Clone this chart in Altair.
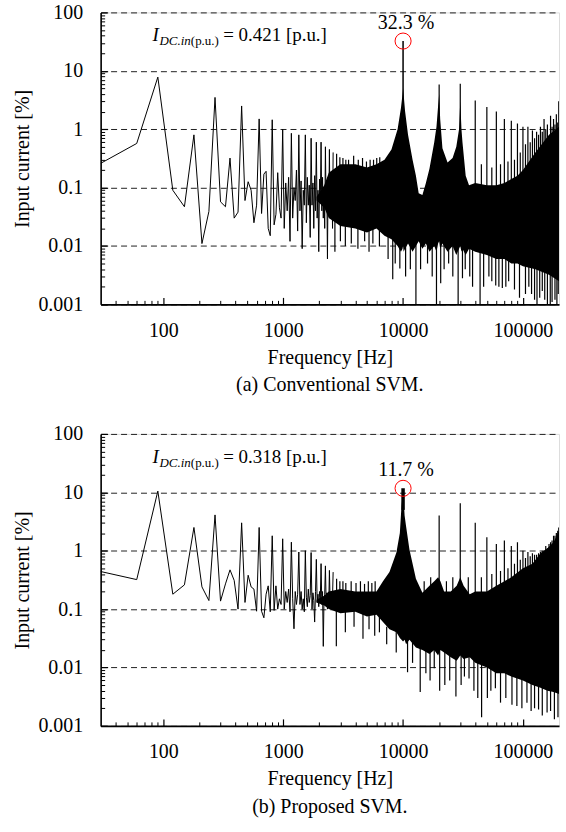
import altair as alt
import pandas as pd

FONT = "Liberation Serif, Times New Roman, Times, serif"

# ---------------- data ----------------
LOW_F = [30, 60, 90, 120, 150, 180, 210, 240, 270, 300,
         330, 360, 390, 420, 450, 480, 510, 540, 570, 600,
         630, 660, 690, 720, 750, 780, 810, 840, 870, 900,
         930, 960, 990, 1020, 1050, 1080, 1110, 1140, 1170, 1200,
         1230, 1260, 1290, 1320, 1350, 1380, 1410, 1440, 1470, 1500,
         1530, 1560, 1590, 1620, 1650, 1680, 1710, 1740, 1770, 1800,
         1830, 1860, 1890, 1920, 1950, 1980, 2010, 2040, 2070, 2100,
         2130, 2160, 2190, 2220, 2250, 2280, 2310, 2340, 2370, 2400,
         2430, 2460, 2490, 2520, 2550, 2580, 2610]

A_LOW_V = [0.26, 0.57, 7.8, 0.09, 0.047, 0.8, 0.011, 0.039, 3.5, 0.057,
           0.047, 0.32, 0.03, 0.038, 2.5, 0.06, 0.126, 0.09, 0.025, 0.05,
           1.5, 0.036, 0.17, 0.19, 0.02, 0.015, 1.45, 0.023, 0.035, 0.18,
           0.045, 0.03, 1.0, 0.02, 0.12, 0.04, 0.15, 0.012, 0.85, 0.03,
           0.1, 0.06, 0.2, 0.018, 0.8, 0.04, 0.13, 0.009, 0.09, 0.05,
           0.8, 0.025, 0.15, 0.05, 0.11, 0.014, 0.7, 0.05, 0.12, 0.02,
           0.16, 0.04, 0.6, 0.03, 0.09, 0.008, 0.14, 0.06, 0.6, 0.04,
           0.15, 0.03, 0.1, 0.02, 0.5, 0.05, 0.12, 0.006, 0.15, 0.04,
           0.45, 0.03, 0.16, 0.05, 0.12, 0.02, 0.4]

B_LOW_V = [0.44, 0.32, 10.5, 0.18, 0.26, 2.5, 0.24, 0.14, 4.1, 0.137,
           0.27, 0.47, 0.31, 0.1, 3.0, 0.13, 0.38, 0.24, 0.22, 0.092,
           2.5, 0.092, 0.071, 0.18, 0.25, 0.09, 1.8, 0.095, 0.25, 0.1,
           0.15, 0.12, 1.6, 0.1, 0.2, 0.13, 0.22, 0.09, 1.4, 0.15,
           0.046, 0.2, 0.12, 0.18, 0.95, 0.12, 0.2, 0.1, 0.15, 0.09,
           1.0, 0.16, 0.11, 0.22, 0.13, 0.17, 0.93, 0.1, 0.19, 0.14,
           0.06, 0.2, 0.71, 0.13, 0.18, 0.11, 0.2, 0.15, 0.6, 0.12,
           0.2, 0.023, 0.15, 0.18, 0.55, 0.14, 0.19, 0.1, 0.17, 0.12,
           0.46, 0.15, 0.11, 0.2, 0.13, 0.16, 0.43]

# dense high-frequency region: envelope of the solid black band
A_BAND_F = [1900, 2200, 2400, 3000, 4000, 5000, 6000, 7000, 8000, 9000, 9600, 9900,
            10000, 10100, 10400, 11000, 12000, 12800, 13500, 14500, 15500, 16600,
            18200, 19000, 19600, 20000, 20400, 21300, 23500, 25900, 27800, 29300,
            30000, 30700, 31300, 33300, 35500, 40000, 50000, 60000, 70000, 80000,
            90000, 100000, 127000, 165000, 200000]
A_BAND_LO = [0.06, 0.045, 0.03, 0.022, 0.02, 0.017, 0.02, 0.015, 0.013, 0.01, 0.008, 0.009,
             0.01, 0.008, 0.009, 0.011, 0.008, 0.01, 0.012, 0.009, 0.011, 0.008,
             0.01, 0.008, 0.011, 0.012, 0.009, 0.011, 0.008, 0.01, 0.007, 0.009,
             0.01, 0.008, 0.009, 0.007, 0.009, 0.008, 0.007, 0.006, 0.006, 0.005,
             0.005, 0.0045, 0.004, 0.0032, 0.0025]
A_BAND_HI = [0.07, 0.11, 0.18, 0.25, 0.25, 0.22, 0.25, 0.3, 0.45, 1.0, 2.3, 4.0,
             5.0, 4.0, 2.0, 0.8, 0.3, 0.16, 0.08, 0.075, 0.12, 0.21,
             0.6, 1.1, 2.5, 4.0, 1.5, 0.47, 0.27, 0.32, 0.5, 1.0,
             3.0, 1.0, 0.6, 0.16, 0.11, 0.12, 0.11, 0.11, 0.12, 0.14,
             0.16, 0.2, 0.4, 0.8, 1.1]

B_BAND_F = [1900, 2200, 2400, 3000, 4000, 5000, 6000, 6800, 7700, 8800, 9400, 9700,
            10000, 10300, 10600, 11300, 12800, 14500, 16600, 18200, 19600, 20500,
            22000, 25000, 28000, 30000, 32000, 36000, 40000, 50000, 60000, 70000,
            80000, 100000, 120000, 140000, 160000, 180000, 200000]
B_BAND_LO = [0.13, 0.115, 0.1, 0.085, 0.09, 0.075, 0.08, 0.06, 0.045, 0.04, 0.032, 0.03,
             0.028, 0.03, 0.025, 0.03, 0.022, 0.02, 0.017, 0.02, 0.016, 0.02,
             0.018, 0.015, 0.013, 0.016, 0.014, 0.015, 0.012, 0.01, 0.008, 0.008,
             0.007, 0.006, 0.005, 0.0045, 0.004, 0.0038, 0.0035]
B_BAND_HI = [0.145, 0.17, 0.2, 0.22, 0.2, 0.2, 0.2, 0.3, 0.43, 0.93, 2.0, 5.8,
             11.0, 4.0, 2.6, 1.05, 0.33, 0.19, 0.25, 0.3, 0.35, 0.3,
             0.2, 0.2, 0.25, 0.35, 0.25, 0.18, 0.2, 0.2, 0.25, 0.3,
             0.35, 0.5, 0.6, 0.9, 1.1, 1.4, 2.2]

# upward spikes: frequency, bottom, top
A_UP_F = [2790, 2970, 3150, 3330, 3510, 3870, 4230, 4590, 4950, 5310, 5670, 6030, 6390,
          20000, 30000, 40000, 50000, 60000, 70000, 80000, 90000, 100000, 110000,
          120000, 130000, 140000, 150000, 160000, 170000, 180000, 190000, 199000,
          45000, 55000, 65000, 75000, 85000, 95000, 105000, 115000, 125000, 135000,
          145000, 155000, 175000, 185000, 195000]
A_UP_LO = [0.1] * 13 + [1.0, 1.0] + [0.05] * 17 + [0.05] * 15
A_UP_HI = [0.38, 0.33, 0.32, 0.3, 0.3, 0.35, 0.3, 0.32, 0.28, 0.3, 0.3, 0.32, 0.33,
           5.8, 6.0, 3.1, 2.4, 2.0, 1.5, 1.4, 1.25, 1.1, 1.1,
           0.95, 0.9, 1.1, 1.5, 1.2, 1.7, 1.5, 1.8, 3.0,
           0.25, 0.22, 0.25, 0.28, 0.3, 0.4, 0.55, 0.6, 0.7, 0.8,
           0.9, 1.0, 1.1, 1.2, 1.3]
# downward dips: frequency, bottom, top
A_DN_F = [3700, 4780, 6350, 8200, 9400, 12800, 19000, 20600, 28800, 31300,
          43900, 59300, 67300, 93600, 131000, 145000, 160000, 169000, 197000,
          2700, 3000, 3300, 4200, 5200, 5600, 7500, 8600, 10500, 11500,
          14000, 16000, 17500, 22000, 24000, 26000, 33000, 36000, 38000, 47000,
          52000, 55000, 63000, 72000, 76000, 85000, 105000, 112000, 118000, 125000,
          138000, 152000, 175000, 185000, 192000]
A_DN_LO = [0.011, 0.012, 0.0098, 0.0027, 0.0041, 0.001, 0.001, 0.0023, 0.001, 0.0028,
           0.001, 0.0021, 0.0019, 0.0013, 0.001, 0.0017, 0.001, 0.001, 0.0015,
           0.008, 0.012, 0.01, 0.009, 0.008, 0.011, 0.006, 0.005, 0.003, 0.004,
           0.004, 0.005, 0.003, 0.004, 0.005, 0.003, 0.004, 0.003, 0.002, 0.002,
           0.003, 0.0025, 0.002, 0.002, 0.0025, 0.0018, 0.0015, 0.002, 0.0015, 0.0012,
           0.0013, 0.0012, 0.0011, 0.0012, 0.001]
A_DN_HI = [0.03] * 10 + [0.02] * 9 + [0.03] * 19 + [0.02] * 16

B_UP_F = [2790, 2970, 3150, 3330, 3690, 4050, 4410, 4770, 5130, 5490, 5850,
          20000, 30000, 40000, 50000, 60000, 70000, 80000, 90000, 100000, 110000,
          120000, 130000, 140000, 150000, 160000, 170000, 180000, 190000, 199000,
          15000, 17000, 23000, 26000, 35000, 45000, 55000, 65000, 75000, 85000,
          95000, 105000, 115000, 125000, 135000, 145000, 155000, 165000, 175000,
          185000, 195000]
B_UP_LO = [0.15] * 11 + [0.2, 0.2] + [0.15] * 17 + [0.1] * 21
B_UP_HI = [0.33, 0.3, 0.3, 0.28, 0.3, 0.28, 0.3, 0.27, 0.3, 0.28, 0.3,
           4.0, 6.5, 3.0, 1.7, 1.3, 1.5, 1.2, 1.4, 1.0, 0.95,
           0.9, 0.85, 0.95, 1.0, 1.1, 1.4, 1.8, 2.0, 2.5,
           0.3, 0.35, 0.3, 0.35, 0.35, 0.35, 0.4, 0.45, 0.5, 0.6,
           0.7, 0.75, 0.8, 0.85, 0.9, 1.0, 1.2, 1.3, 1.5,
           1.8, 2.2]
B_DN_F = [2775, 4630, 6350, 8770, 10900, 13900, 18200, 22300, 27600, 35500,
          45200, 58900, 81000, 98000, 135000, 159000, 196000,
          3300, 3900, 5200, 5800, 7300, 12000, 15500, 16800, 20200, 24500,
          30500, 32500, 39000, 42000, 50500, 54000, 65000, 72000, 89000, 108000,
          117000, 125000, 145000, 170000, 183000]
B_DN_LO = [0.023, 0.031, 0.04, 0.018, 0.0083, 0.0038, 0.0097, 0.005, 0.0032, 0.0065,
           0.0014, 0.0044, 0.0023, 0.002, 0.0019, 0.0017, 0.0014,
           0.04, 0.05, 0.045, 0.035, 0.025, 0.012, 0.008, 0.006, 0.004, 0.006,
           0.005, 0.007, 0.004, 0.003, 0.003, 0.004, 0.0025, 0.003, 0.0022, 0.0025,
           0.0018, 0.002, 0.0015, 0.0018, 0.0013]
B_DN_HI = [0.1, 0.1, 0.1, 0.05, 0.05] + [0.03] * 5 + [0.02] * 7 + \
          [0.1, 0.1, 0.1, 0.1, 0.05] + [0.03] * 7 + [0.02] * 13

PEAK_F = 10000
A_PEAK = 32.3
B_PEAK = 11.7
A_PEAK_BASE = 3.0
B_PEAK_BASE = 5.0
A_PEAK_LABEL = "32.3 %"
B_PEAK_LABEL = "11.7 %"
A_IDC = "= 0.421 [p.u.]"
B_IDC = "= 0.318 [p.u.]"
A_CAPTION = "(a) Conventional SVM."
B_CAPTION = "(b) Proposed SVM."

X_LABELS = [100, 1000, 10000, 100000]
X_MINOR = [40, 50, 60, 70, 80, 90, 200, 300, 400, 500, 600, 700, 800, 900,
           2000, 3000, 4000, 5000, 6000, 7000, 8000, 9000,
           20000, 30000, 40000, 50000, 60000, 70000, 80000, 90000]
Y_LABELS = [0.001, 0.01, 0.1, 1, 10, 100]
Y_MINOR = [0.002, 0.003, 0.004, 0.005, 0.006, 0.007, 0.008, 0.009,
           0.02, 0.03, 0.04, 0.05, 0.06, 0.07, 0.08, 0.09,
           0.2, 0.3, 0.4, 0.5, 0.6, 0.7, 0.8, 0.9,
           2, 3, 4, 5, 6, 7, 8, 9,
           20, 30, 40, 50, 60, 70, 80, 90]

# ---------------- chart ----------------
X_SCALE = alt.Scale(type="log", domain=[30, 200000], nice=False)
Y_SCALE = alt.Scale(type="log", domain=[0.001, 100], nice=False)

X_MAIN = alt.Axis(orient="bottom", values=X_LABELS, format="d", ticks=False,
                  labelPadding=16, labelFont=FONT, labelFontSize=20, labelColor="black",
                  labelFlush=False, labelOverlap=False,
                  title="Frequency [Hz]", titleFont=FONT, titleFontSize=20,
                  titleFontWeight="normal", titleColor="black", titlePadding=7,
                  domain=True, domainColor="black", domainWidth=1.6, grid=False)
Y_MAIN = alt.Axis(orient="left", values=Y_LABELS, format="~g", ticks=False,
                  labelPadding=18, labelFont=FONT, labelFontSize=20, labelColor="black",
                  labelFlush=False, labelOverlap=False,
                  title="Input current [%]", titleFont=FONT, titleFontSize=20,
                  titleFontWeight="normal", titleColor="black", titlePadding=5,
                  domain=True, domainColor="black", domainWidth=1.6,
                  grid=True, gridColor="#222222", gridDash=[6, 4], gridWidth=1)
X_MAJ = alt.Axis(orient="bottom", values=X_LABELS, labels=False, domain=False, grid=False,
                 tickSize=7, offset=-7, tickColor="black", tickWidth=1.2, title=None, zindex=1)
X_MIN = alt.Axis(orient="bottom", values=X_MINOR, labels=False, domain=False, grid=False,
                 tickSize=4, offset=-4, tickColor="black", tickWidth=1, title=None, zindex=1)
Y_MAJ = alt.Axis(orient="left", values=Y_LABELS, labels=False, domain=False, grid=False,
                 tickSize=7, offset=-7, tickColor="black", tickWidth=1.2, title=None, zindex=1)
Y_MIN = alt.Axis(orient="left", values=Y_MINOR, labels=False, domain=False, grid=False,
                 tickSize=4, offset=-4, tickColor="black", tickWidth=1, title=None, zindex=1)


def txt(s, x, y, size, style="normal"):
    return alt.Chart(pd.DataFrame({"t": [s]})).mark_text(
        font=FONT, fontSize=size, fontStyle=style, align="left",
        baseline="alphabetic", color="black").encode(
        x=alt.value(x), y=alt.value(y), text="t:N")


def panel(low_v, band_f, band_lo, band_hi, up_f, up_lo, up_hi, dn_f, dn_lo, dn_hi,
          peak_base, peak_v, peak_w, peak_label, idc, caption):
    line_df = pd.DataFrame({"f": LOW_F, "v": low_v})
    band_df = pd.DataFrame({"f": band_f, "lo": band_lo, "hi": band_hi})
    spk_df = pd.DataFrame({"f": up_f + dn_f, "lo": up_lo + dn_lo, "hi": up_hi + dn_hi})
    peak_df = pd.DataFrame({"f": [PEAK_F], "lo": [peak_base], "v": [peak_v], "t": [peak_label]})

    band = alt.Chart(band_df).mark_area(color="black", opacity=1, clip=True).encode(
        x=alt.X("f:Q", scale=X_SCALE, axis=X_MAJ),
        y=alt.Y("lo:Q", scale=Y_SCALE, axis=Y_MAJ),
        y2="hi:Q")
    line = alt.Chart(line_df).mark_line(color="black", strokeWidth=1, clip=True).encode(
        x=alt.X("f:Q", scale=X_SCALE, axis=X_MAIN),
        y=alt.Y("v:Q", scale=Y_SCALE, axis=Y_MAIN))
    spikes = alt.Chart(spk_df).mark_rule(color="black", strokeWidth=1.2, clip=True).encode(
        x=alt.X("f:Q", scale=X_SCALE, axis=X_MIN),
        y=alt.Y("lo:Q", scale=Y_SCALE, axis=Y_MIN),
        y2="hi:Q")
    peak_rule = alt.Chart(peak_df).mark_rule(color="black", strokeWidth=peak_w, clip=True).encode(
        x=alt.X("f:Q", scale=X_SCALE, axis=None),
        y=alt.Y("lo:Q", scale=Y_SCALE, axis=None),
        y2="v:Q")
    circle = alt.Chart(peak_df).mark_point(shape="circle", size=260, color="#ff0000",
                                           filled=False, strokeWidth=1, opacity=1).encode(
        x=alt.X("f:Q", scale=X_SCALE, axis=None),
        y=alt.Y("v:Q", scale=Y_SCALE, axis=None))
    ptext = alt.Chart(peak_df).mark_text(font=FONT, fontSize=20, dy=-12, dx=3,
                                         baseline="alphabetic", align="center",
                                         color="black").encode(
        x=alt.X("f:Q", scale=X_SCALE, axis=None),
        y=alt.Y("v:Q", scale=Y_SCALE, axis=None),
        text="t:N")
    ann = [txt("I", 52, 29, 19, "italic"),
           txt("DC.in", 59, 33, 13, "italic"),
           txt("(p.u.)", 90.5, 33, 13),
           txt(idc, 123, 29, 19)]
    return alt.layer(band, line, spikes, peak_rule, circle, ptext, *ann).resolve_axis(
        x="independent", y="independent").properties(
        width=460, height=293,
        title=alt.TitleParams(caption, orient="bottom", font=FONT, fontSize=20,
                              fontWeight="normal", color="black", offset=8,
                              anchor="middle", frame="group"))


pa = panel(A_LOW_V, A_BAND_F, A_BAND_LO, A_BAND_HI, A_UP_F, A_UP_LO, A_UP_HI,
           A_DN_F, A_DN_LO, A_DN_HI, A_PEAK_BASE, A_PEAK, 1.5, A_PEAK_LABEL, A_IDC, A_CAPTION)
pb = panel(B_LOW_V, B_BAND_F, B_BAND_LO, B_BAND_HI, B_UP_F, B_UP_LO, B_UP_HI,
           B_DN_F, B_DN_LO, B_DN_HI, B_PEAK_BASE, B_PEAK, 3.5, B_PEAK_LABEL, B_IDC, B_CAPTION)

chart = alt.vconcat(pa, pb, spacing=27).properties(
    padding={"left": 12, "top": 0, "right": 6, "bottom": 0},
    background="white").configure_view(strokeWidth=0).configure(font=FONT)

chart.save("out.html", embed_options={"renderer": "svg", "actions": False})
